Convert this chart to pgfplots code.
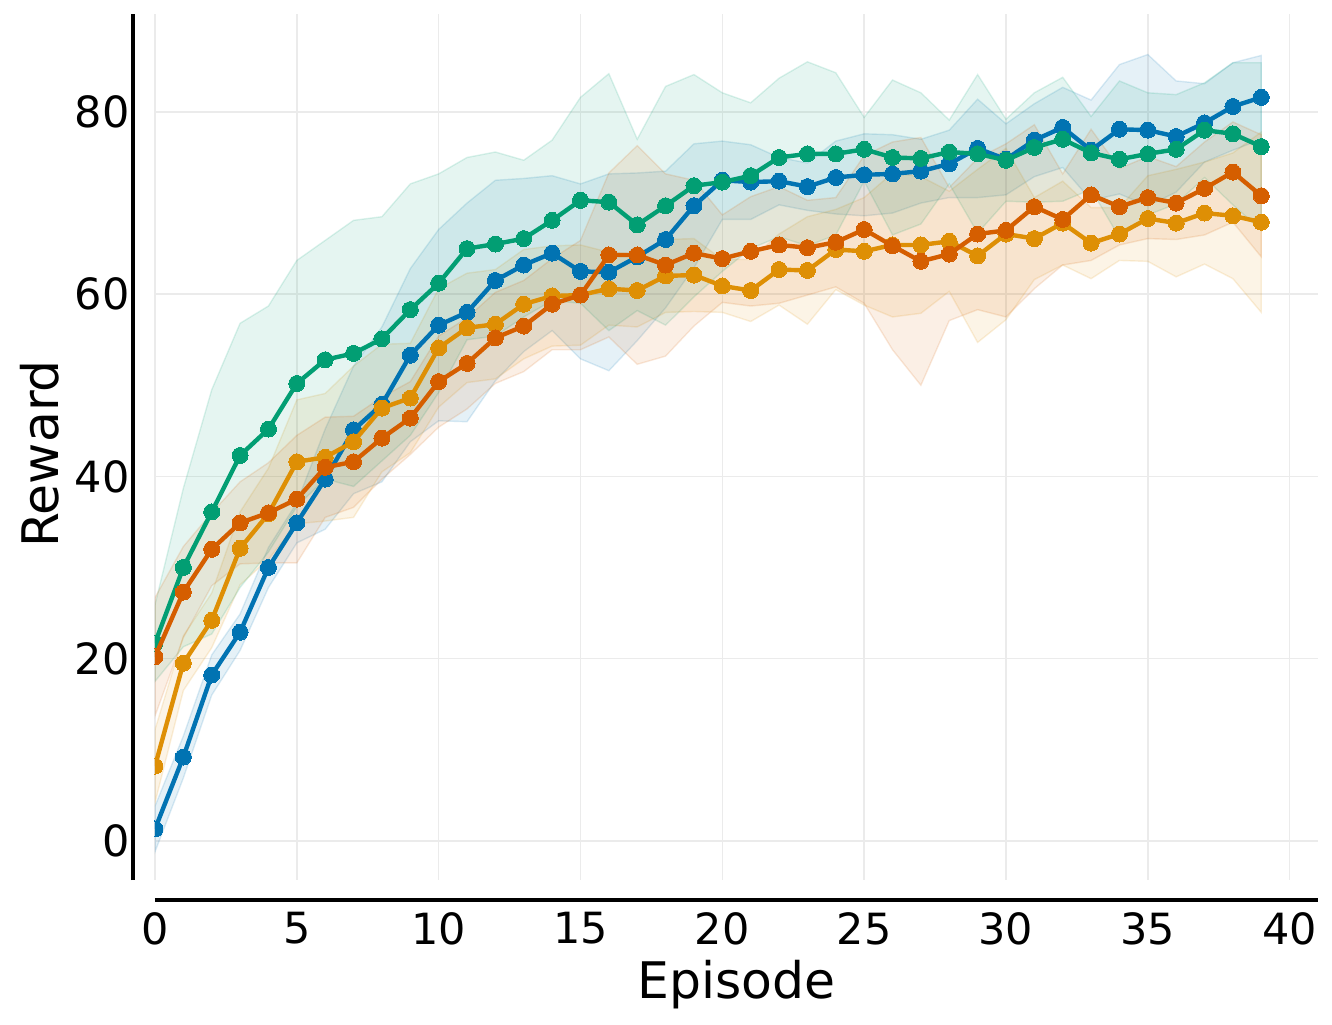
\documentclass[border=0pt]{standalone}
\usepackage{fontspec}
\setmainfont{DejaVu Sans}
\usepackage{pgfplots}
\pgfplotsset{compat=1.18}
\usepackage{pgfplotstable}
\usepgfplotslibrary{fillbetween}
\definecolor{cblue}{HTML}{0173B2}
\definecolor{corange}{HTML}{DE8F05}
\definecolor{cgreen}{HTML}{029E73}
\definecolor{cred}{HTML}{D55E00}
\definecolor{gridc}{HTML}{EBEBEB}

\pgfplotstableread{
x m s
0 1.3 2.5
1 9.2 2.3
2 18.2 2.2
3 22.9 2.0
4 30.0 2.2
5 34.9 2.2
6 39.7 5.5
7 45.1 7.0
8 47.9 8.5
9 53.3 9.5
10 56.6 10.5
11 58.0 12.0
12 61.5 11.0
13 63.2 9.5
14 64.5 8.5
15 62.5 9.6
16 62.4 10.8
17 64.1 9.2
18 66.0 7.5
19 69.7 6.8
20 72.5 4.3
21 72.3 4.1
22 72.4 2.6
23 71.8 2.6
24 72.8 4.0
25 73.1 4.5
26 73.2 4.3
27 73.5 3.5
28 74.3 3.7
29 76.0 5.4
30 74.8 3.9
31 76.9 4.0
32 78.3 4.4
33 75.8 5.5
34 78.1 7.1
35 78.0 8.3
36 77.3 6.1
37 78.8 4.3
38 80.6 4.8
39 81.6 4.6
}\blue

\pgfplotstableread{
x m s
0 8.2 4.0
1 19.5 3.0
2 24.2 3.0
3 32.1 4.0
4 35.9 5.0
5 41.6 6.8
6 42.1 7.0
7 43.8 8.3
8 47.5 7.0
9 48.6 6.0
10 54.1 6.5
11 56.3 6.0
12 56.7 6.0
13 58.9 6.0
14 59.8 5.5
15 59.9 5.5
16 60.6 4.0
17 60.4 4.0
18 62.0 4.0
19 62.1 4.0
20 60.9 2.9
21 60.4 3.4
22 62.7 3.9
23 62.6 5.9
24 64.9 4.4
25 64.7 5.9
26 65.4 7.9
27 65.4 7.5
28 65.8 5.5
29 64.2 9.5
30 66.6 9.4
31 66.1 4.5
32 67.8 4.6
33 65.6 3.9
34 66.6 2.9
35 68.3 4.7
36 67.8 5.9
37 68.9 5.6
38 68.6 6.9
39 67.9 9.9
}\orange

\pgfplotstableread{
x m s
0 21.7 4.2
1 30.0 8.7
2 36.1 13.4
3 42.3 14.5
4 45.2 13.5
5 50.2 13.5
6 52.8 13.1
7 53.5 14.6
8 55.1 13.4
9 58.3 13.8
10 61.2 12.0
11 65.0 10.0
12 65.5 10.1
13 66.1 8.6
14 68.1 8.8
15 70.3 11.3
16 70.1 14.1
17 67.6 9.4
18 69.7 13.1
19 71.9 12.2
20 72.3 9.8
21 73.0 8.0
22 75.0 8.7
23 75.4 10.1
24 75.4 8.9
25 75.9 3.5
26 75.0 8.5
27 74.9 7.2
28 75.6 3.5
29 75.4 8.7
30 74.7 4.5
31 76.1 6.0
32 77.0 6.8
33 75.5 4.0
34 74.8 8.6
35 75.4 6.7
36 75.9 6.0
37 78.0 5.2
38 77.6 7.8
39 76.2 9.2
}\green

\pgfplotstableread{
x m s
0 20.2 6.5
1 27.3 5.0
2 32.0 4.0
3 34.9 4.5
4 36.0 5.5
5 37.5 7.0
6 41.0 5.5
7 41.6 5.0
8 44.2 4.5
9 46.4 4.0
10 50.4 5.0
11 52.4 5.0
12 55.2 5.0
13 56.5 5.0
14 58.9 5.0
15 59.9 6.0
16 64.3 9.0
17 64.3 12.0
18 63.2 10.0
19 64.5 8.0
20 63.9 4.8
21 64.7 6.0
22 65.4 6.4
23 65.1 5.2
24 65.7 4.9
25 67.1 8.1
26 65.3 11.4
27 63.6 13.6
28 64.4 7.3
29 66.6 8.3
30 67.0 9.5
31 69.6 9.0
32 68.2 5.0
33 70.9 7.2
34 69.6 4.2
35 70.6 4.5
36 70.0 4.0
37 71.6 5.1
38 73.4 5.5
39 70.8 6.7
}\red

\begin{document}
\begin{tikzpicture}
\begin{axis}[
  at={(0pt,0pt)}, anchor=south west, scale only axis,
  width=581.5pt, height=433pt,
  xmin=0, xmax=41, ymin=-4.3, ymax=90.75,
  xtick={0,5,...,40}, ytick={0,20,...,80},
  grid=major, grid style={line width=0.75pt, draw=gridc},
  axis line style={draw=none}, major tick length=0pt,
  tick label style={font=\fontsize{21.5}{25}\selectfont, inner sep=0pt},
  /pgf/number format/assume math mode=true,
  yticklabel style={anchor=east, xshift=-12.5pt},
  xticklabel style={anchor=north, yshift=-16pt},
  clip marker paths=true,
]
% bands
\addplot[draw=none, name path=bu, forget plot] table[x=x, y expr=\thisrow{m}+\thisrow{s}] {\blue};
\addplot[draw=none, name path=bl, forget plot] table[x=x, y expr=\thisrow{m}-\thisrow{s}] {\blue};
\addplot[fill=cblue, fill opacity=0.1, draw=cblue, draw opacity=0.14, line width=0.7pt] fill between[of=bu and bl];
\addplot[draw=none, name path=ou, forget plot] table[x=x, y expr=\thisrow{m}+\thisrow{s}] {\orange};
\addplot[draw=none, name path=ol, forget plot] table[x=x, y expr=\thisrow{m}-\thisrow{s}] {\orange};
\addplot[fill=corange, fill opacity=0.1, draw=corange, draw opacity=0.14, line width=0.7pt] fill between[of=ou and ol];
\addplot[draw=none, name path=gu, forget plot] table[x=x, y expr=\thisrow{m}+\thisrow{s}] {\green};
\addplot[draw=none, name path=gl, forget plot] table[x=x, y expr=\thisrow{m}-\thisrow{s}] {\green};
\addplot[fill=cgreen, fill opacity=0.1, draw=cgreen, draw opacity=0.14, line width=0.7pt] fill between[of=gu and gl];
\addplot[draw=none, name path=ru, forget plot] table[x=x, y expr=\thisrow{m}+\thisrow{s}] {\red};
\addplot[draw=none, name path=rl, forget plot] table[x=x, y expr=\thisrow{m}-\thisrow{s}] {\red};
\addplot[fill=cred, fill opacity=0.1, draw=cred, draw opacity=0.14, line width=0.7pt] fill between[of=ru and rl];
% lines
\addplot[cblue, line width=2.2pt, mark=*, mark size=4pt, mark options={solid, fill=cblue, draw=cblue, line width=0pt}] table[x=x, y=m] {\blue};
\addplot[corange, line width=2.2pt, mark=*, mark size=4pt, mark options={solid, fill=corange, draw=corange, line width=0pt}] table[x=x, y=m] {\orange};
\addplot[cgreen, line width=2.2pt, mark=*, mark size=4pt, mark options={solid, fill=cgreen, draw=cgreen, line width=0pt}] table[x=x, y=m] {\green};
\addplot[cred, line width=2.2pt, mark=*, mark size=4pt, mark options={solid, fill=cred, draw=cred, line width=0pt}] table[x=x, y=m] {\red};
\end{axis}
\draw[line width=1.75pt] (-11pt,0pt) -- (-11pt,433pt);
\draw[line width=1.75pt] (0pt,-10pt) -- (581.5pt,-10pt);
\node[rotate=90, anchor=south, inner sep=0pt, font=\fontsize{25.2}{30}\selectfont] at (-47.5pt,213pt) {Reward};
\node[anchor=base, inner sep=0pt, font=\fontsize{25.2}{30}\selectfont] at (290.75pt,-59pt) {Episode};
\pgfresetboundingbox
\path[use as bounding box] (-77.5pt,-72pt) rectangle (588.5pt,440pt);
\end{tikzpicture}
\end{document}
